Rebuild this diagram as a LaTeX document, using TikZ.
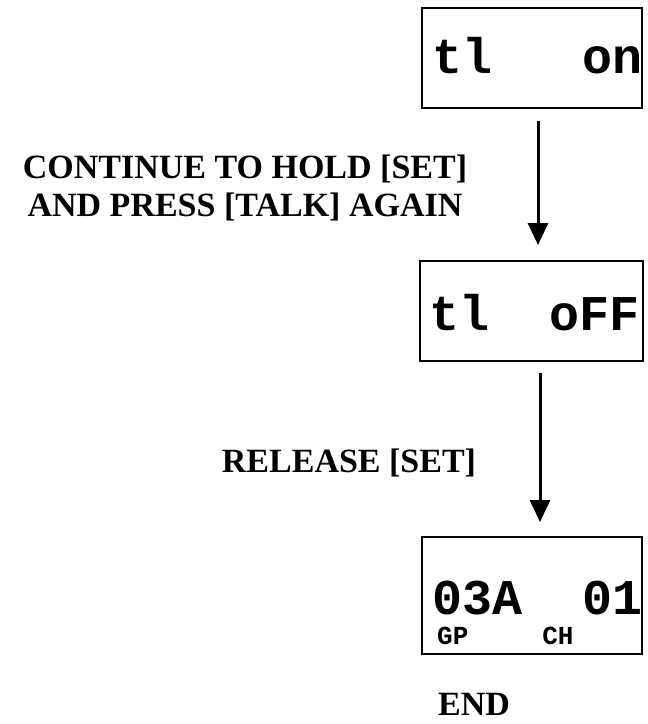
\documentclass[tikz,border=0pt]{standalone}
\usepackage{fontspec}
\setmainfont{Liberation Serif}
\setmonofont{Liberation Mono}
\usetikzlibrary{arrows.meta}
\tikzset{
  lcd/.style={draw, line width=2pt, inner sep=0pt},
  big/.style={font=\fontsize{50}{50}\selectfont\ttfamily\bfseries, inner sep=0pt, anchor=base west, text depth=0pt},
  small/.style={font=\fontsize{26}{26}\selectfont\ttfamily\bfseries, inner sep=0pt, anchor=base west, text depth=0pt, text height=18pt},
  lbl/.style={font=\fontsize{34}{38}\selectfont\bfseries, inner sep=0pt, anchor=base},
  flow/.style={line width=3pt, -{Triangle[width=20pt,length=22pt]}}
}
\begin{document}
\begin{tikzpicture}[x=1pt,y=-1pt]
\useasboundingbox (0,0) rectangle (648,724);
\node[lcd, minimum width=220pt, minimum height=100pt] (b1) at (532,58) {};
\node[lcd, minimum width=223pt, minimum height=100pt] (b2) at (531.5,311) {};
\node[lcd, minimum width=220pt, minimum height=117pt] (b3) at (532,595.5) {};
\node[big] (t1) at (432,73) {tl\ \ \ on};
\node[big] (t2) at (429,330) {tl\ \ oFF};
\node[big] (t3) at (432,614) {03A\ \ 01};
\node[small] (t4) at (437,644) {GP\hspace*{74pt}CH};
\node[lbl] (l1) at (245,178) {CONTINUE TO HOLD [SET]};
\node[lbl] (l1b) at (245,216) {AND PRESS [TALK] AGAIN};
\node[lbl] (l2) at (349,472) {RELEASE [SET]};
\node[lbl, text depth=0pt] (l3) at (474,715) {END};
\draw[flow, shorten <=12pt, shorten >=15pt] (b1.south -| 538,0) -- (b2.north -| 538,0);
\draw[flow, shorten <=11pt, shorten >=14pt] (b2.south -| 540,0) -- (b3.north -| 540,0);
\end{tikzpicture}
\end{document}
